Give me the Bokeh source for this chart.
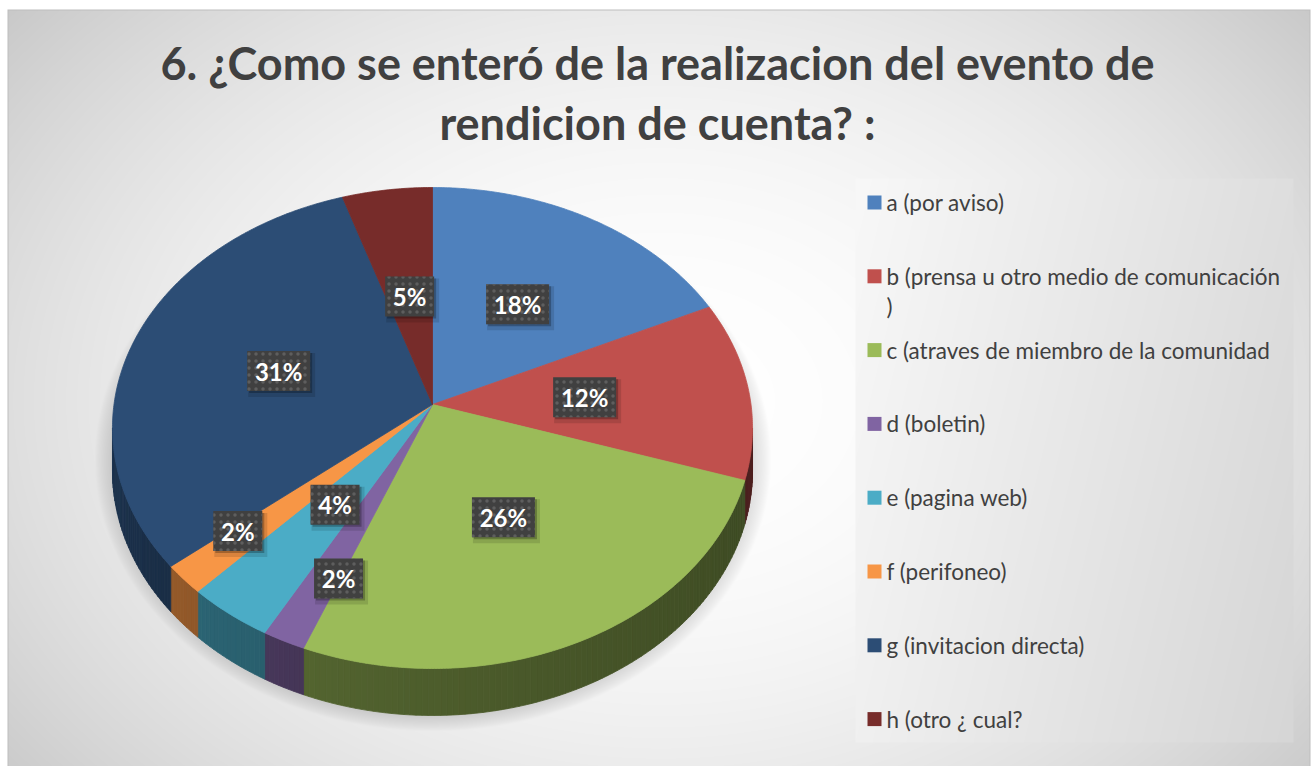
import numpy as np
from math import radians, sin, cos
from bokeh.plotting import figure
from bokeh.models import Range1d
from bokeh.core.properties import value
from bokeh.embed import file_html
from bokeh.resources import INLINE

W, H = 1312, 766

# ---------------- data ----------------
title_lines = ["6. ¿Como se enteró de la realizacion del evento de",
               "rendicion de cuenta? :"]
categories = ["a (por aviso)",
              "b (prensa u otro medio de comunicación )",
              "c (atraves de miembro de la comunidad",
              "d (boletin)",
              "e (pagina web)",
              "f (perifoneo)",
              "g (invitacion directa)",
              "h (otro ¿ cual?"]
shares = [18, 12, 26, 2, 4, 2, 31, 5]
colors = ["#4F81BD", "#C0504D", "#9BBB59", "#8064A2",
          "#4BACC6", "#F79646", "#2C4D75", "#772C2A"]

# ---------------- layout / style ----------------
CX, CY = 432.0, 404.0      # screen position of pie centre
RX, RY = 318.5, 238.2
PERSP = 0.0977
DEPTH = 42.4
LABEL_R = [0.52, 0.48, 0.50, 0.735, 0.50, 0.77, 0.51, 0.48]
LABEL_DA = [0, 0, 0, -3.2, 0, 2.2, 0, 0]
FONT = "Lato"
TXT = "#404040"


def proj(theta, r=1.0, depth=0.0):
    t = radians(theta)
    u = r * sin(t)
    v = -r * cos(t)
    s = 1.0 / (1.0 - PERSP * v)
    return CX + RX * u * s, CY + RY * v * s + depth * s


def shade(c, f):
    c = c.lstrip("#")
    rgb = [int(c[i:i + 2], 16) for i in (0, 2, 4)]
    return "#%02x%02x%02x" % tuple(max(0, min(255, int(x * f))) for x in rgb)


p = figure(width=W, height=H, x_range=Range1d(0, W), y_range=Range1d(0, H),
           output_backend="svg", toolbar_location=None, min_border=0)
p.axis.visible = False
p.grid.visible = False
p.outline_line_color = None
p.background_fill_color = "white"
p.border_fill_color = "white"

# ---------------- background (gradient, legend panel, pie shadow) ----------------
ys, xs = np.mgrid[0:H, 0:W].astype(float)
g = 255 - 44 * (((xs - 660) / 760) ** 2 + ((ys - 400) / 560) ** 2)
# soft shadow under the pie
d = np.sqrt(((xs - CX) / 338) ** 2 + ((ys - 458) / 272) ** 2)
sh = np.clip((1.0 - d) / 0.09, 0, 1) ** 0.8
g = g - 48 * sh
# legend panel
LX0, LX1, LY0, LY1 = 855, 1293, 178, 742
inleg = (xs >= LX0) & (xs < LX1) & (ys >= LY0) & (ys < LY1)
gl = 248 - 26 * (xs - LX0) / (LX1 - LX0) - 8 * (ys - LY0) / (LY1 - LY0)
g = np.where(inleg, gl, g)
# frame
g = np.where((ys < 9) | (xs < 7) | (xs > 1309), 255, g)
g = np.where(((ys >= 9) & (ys < 10) & (xs >= 7) & (xs <= 1309)) |
             ((xs >= 7) & (xs < 8) & (ys >= 9)) |
             ((xs > 1308) & (xs <= 1309) & (ys >= 9)), 190, g)
g = np.clip(g, 0, 255).astype(np.uint8)
img = np.empty((H, W, 4), dtype=np.uint8)
img[..., 0] = g
img[..., 1] = g
img[..., 2] = g
img[..., 3] = 255
img = img[::-1].copy()
p.image_rgba(image=[img.view(np.uint32).reshape(H, W)], x=0, y=0, dw=W, dh=H)

# ---------------- pie geometry ----------------
total = float(sum(shares))
starts, ends = [], []
acc = 0.0
for v in shares:
    starts.append(acc / total * 360.0)
    acc += v
    ends.append(acc / total * 360.0)

VIS0, VIS1 = 95.6, 264.4
side_xs, side_ys, side_cols = [], [], []
for i in range(len(shares)):
    a0, a1 = max(starts[i], VIS0), min(ends[i], VIS1)
    if a1 <= a0:
        continue
    n = max(2, int((a1 - a0) / 1.0) + 1)
    angs = np.linspace(a0, a1, n + 1)
    for j in range(n):
        t0, t1 = angs[j], angs[j + 1]
        pts = [proj(t0), proj(t1), proj(t1, 1, DEPTH), proj(t0, 1, DEPTH)]
        side_xs.append([q[0] for q in pts])
        side_ys.append([H - q[1] for q in pts])
        tm = 0.5 * (t0 + t1)
        f = 0.40 + 0.28 * (max(0.0, (tm - 96) / 168.0)) ** 1.5
        side_cols.append(shade(colors[i], f))
p.patches(side_xs, side_ys, fill_color=side_cols, line_color=side_cols, line_width=0.8)

top_xs, top_ys = [], []
for i in range(len(shares)):
    angs = np.linspace(starts[i], ends[i], max(3, int((ends[i] - starts[i]) / 0.5) + 2))
    pts = [(CX, CY)] + [proj(a) for a in angs]
    top_xs.append([q[0] for q in pts])
    top_ys.append([H - q[1] for q in pts])
p.patches(top_xs, top_ys, fill_color=colors, line_color=colors, line_width=0.8)

# ---------------- data labels ----------------
lx, ly, lw, lt = [], [], [], []
for i, v in enumerate(shares):
    mid = 0.5 * (starts[i] + ends[i]) + LABEL_DA[i]
    x, y = proj(mid, LABEL_R[i])
    txt = f"{v}%"
    lx.append(x)
    ly.append(H - y)
    lw.append(14 * len(txt) + 21)
    lt.append(txt)
p.rect(x=[x + 3 for x in lx], y=[y - 4 for y in ly], width=[w + 4 for w in lw], height=44,
       fill_color="black", fill_alpha=0.12, line_color=None)
p.rect(x=[x + 2 for x in lx], y=[y - 2 for y in ly], width=lw, height=40,
       fill_color="black", fill_alpha=0.25, line_color=None)
p.rect(x=lx, y=ly, width=lw, height=40, fill_color="#404040", line_color=None,
       hatch_pattern="dot", hatch_color="#5e5e5e", hatch_scale=7, hatch_weight=2)
p.text(x=lx, y=ly, text=lt, text_color="white", text_font=value(FONT),
       text_font_style="bold", text_font_size="24px",
       text_align="center", text_baseline="middle")

# ---------------- legend ----------------
LEG_Y0, LEG_DY = 202, 73.8
for i, name in enumerate(categories):
    yc = LEG_Y0 + i * LEG_DY
    p.rect(x=[874], y=[H - yc], width=14, height=14, fill_color=colors[i], line_color=None)
    lines = [name]
    if len(name) > 38:
        k = name.rfind(" ")
        lines = [name[:k], name[k + 1:]]
    for j, ln in enumerate(lines):
        p.text(x=[886], y=[H - yc - 30 * j], text=[ln], text_color=TXT,
               text_font=value(FONT), text_font_size="22.5px",
               text_align="left", text_baseline="middle")

# ---------------- title ----------------
for j, ln in enumerate(title_lines):
    p.text(x=[657], y=[H - (62 + 60 * j)], text=[ln], text_color=TXT,
           text_font=value(FONT), text_font_style="bold", text_font_size="45px",
           text_align="center", text_baseline="middle")

open("out.html", "w").write(file_html(p, INLINE))
